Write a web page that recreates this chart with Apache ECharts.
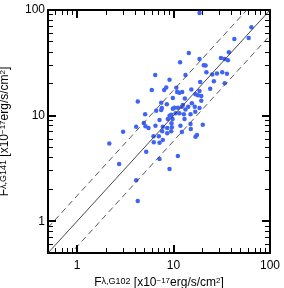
<!DOCTYPE html>
<html>
<head>
<meta charset="utf-8">
<script src="https://cdn.jsdelivr.net/npm/echarts@6/dist/echarts.min.js"></script>
<style>
html,body{margin:0;padding:0;background:#fff;}
#c{width:284px;height:288px;}
</style>
</head>
<body>
<div id="c"></div>
<script>
// ---- data ----
const fluxG102 = [
  18.6, 64.1, 42.7, 60.1, 14.4, 37.5, 11.7, 18.6, 31.0, 33.9,
  36.6, 20.6, 21.5, 6.46, 9.09, 13.3, 21.9, 25.2, 28.2, 32.0,
  35.8, 18.9, 26.2, 33.9, 5.95, 8.0, 8.40, 10.7, 10.9, 11.5,
  12.3, 15.3, 18.6, 16.9, 17.9, 19.4, 24.0, 9.84, 13.1, 4.26,
  7.45, 8.52, 15.5, 19.4, 9.84, 10.2, 11.1, 12.2, 12.5, 13.3,
  14.2, 16.6, 18.6, 6.61, 7.45, 7.56, 5.08, 9.09, 9.46, 8.73,
  9.77, 10.5, 11.5, 12.8, 13.0, 15.0, 16.8, 4.10, 4.92, 5.12,
  5.50, 6.50, 7.16, 7.74, 8.60, 9.53, 9.60, 11.8, 15.0, 15.1,
  16.9, 17.5, 7.63, 8.60, 9.46, 12.2, 6.20, 7.04, 6.24, 7.16,
  7.74, 5.21, 11.1, 7.16, 9.09, 4.10, 4.26, 3.00, 2.16, 2.73,
  20.1
];
const fluxG141 = [
  93.7, 68.8, 53.1, 54.2, 39.2, 39.7, 32.0, 34.4, 35.2, 34.4,
  33.4, 30.0, 29.8, 24.2, 21.9, 24.2, 25.8, 24.5, 25.1, 25.8,
  24.9, 20.8, 21.2, 20.2, 17.5, 17.5, 18.5, 18.4, 16.7, 16.5,
  16.7, 17.7, 17.1, 15.9, 15.6, 15.3, 18.0, 14.7, 14.5, 13.6,
  13.2, 12.8, 13.1, 13.8, 11.6, 11.9, 11.9, 12.1, 12.6, 11.4,
  12.1, 12.1, 11.8, 11.1, 11.3, 11.8, 10.3, 9.96, 10.2, 9.27,
  9.27, 10.5, 10.5, 10.3, 9.27, 10.3, 10.9, 7.85, 8.51, 7.92,
  7.63, 8.02, 9.07, 7.85, 7.63, 8.45, 7.75, 8.02, 8.32, 7.47,
  6.32, 6.56, 7.11, 6.81, 7.11, 7.00, 6.38, 6.38, 5.60, 5.52,
  5.89, 4.54, 4.14, 3.88, 3.13, 2.44, 1.55, 7.05, 5.43, 3.48,
  8.20
];
const axisMin = 0.5;
const axisMax = 100;
const majorTickLabels = [1, 10, 100];
const majorTickValues = [1, 10];
const minorTickValues = [0.6, 0.7, 0.8, 0.9, 2, 3, 4, 5, 6, 7, 8, 9, 20, 30, 40, 50, 60, 70, 80, 90];
const lineEnds = [0.5, 100];
const dashFactor = 1.74;

// ---- build ----
const points = fluxG102.map((x, i) => [x, fluxG141[i]]);
const oneToOne = lineEnds.map(x => [x, x]);
const upper = lineEnds.map(x => [x, x * dashFactor]);
const lower = lineEnds.map(x => [x, x / dashFactor]);

const FONT = '"Liberation Sans", Arial, Helvetica, sans-serif';
const rich = {
  m: { fontSize: 12, fontFamily: FONT, color: '#000', lineHeight: 24, verticalAlign: 'top' },
  sup: { fontSize: 8, fontFamily: FONT, color: '#000', lineHeight: 12, verticalAlign: 'top' },
  sub: { fontSize: 9, fontFamily: FONT, color: '#000', lineHeight: 34, verticalAlign: 'top' }
};
function title(sub) {
  return '{m|F}{sub|λ,' + sub + '}{m| [x10}{sup|−17}{m|erg/s/cm}{sup|2}{m|]}';
}
function fmt(v) {
  return majorTickLabels.indexOf(Math.round(v * 1000) / 1000) >= 0 ? String(Math.round(v)) : '';
}
const labelStyle = { fontSize: 12, fontFamily: FONT, color: '#000' };
const axisLine = { show: true, onZero: false, lineStyle: { color: '#000', width: 2 } };

function logAxis(position, extra) {
  return Object.assign({
    type: 'log', logBase: 10, min: axisMin, max: axisMax, position: position,
    axisLine: axisLine, axisTick: { show: false }, minorTick: { show: false },
    splitLine: { show: false }, axisLabel: { show: false }
  }, extra || {});
}

const chart = echarts.init(document.getElementById('c'));
chart.setOption({
  animation: false,
  backgroundColor: '#fff',
  grid: { left: 48, right: 14, top: 10, bottom: 35, containLabel: false, outerBoundsMode: 'none' },
  xAxis: [
    logAxis('bottom', {
      axisLabel: Object.assign({ show: true, margin: 7, formatter: fmt, showMinLabel: false }, labelStyle),
      name: title('G102'), nameLocation: 'middle', nameGap: 8, nameTextStyle: { rich }
    }),
    logAxis('top')
  ],
  yAxis: [
    logAxis('left', {
      axisLabel: Object.assign({ show: true, margin: 3, formatter: fmt, showMinLabel: false }, labelStyle),
      name: title('G141'), nameLocation: 'middle', nameGap: 15, nameRotate: 90, nameTextStyle: { rich }
    }),
    logAxis('right')
  ],
  series: [
    {
      type: 'line', data: oneToOne, symbol: 'none', clip: true,
      lineStyle: { color: '#333', width: 0.9 }, silent: true
    },
    {
      type: 'line', data: upper, symbol: 'none', clip: true,
      lineStyle: { color: '#444', width: 0.9, type: [6, 4] }, silent: true
    },
    {
      type: 'line', data: lower, symbol: 'none', clip: true,
      lineStyle: { color: '#444', width: 0.9, type: [6, 4] }, silent: true
    },
    {
      type: 'scatter', data: points, symbol: 'circle', symbolSize: 4.5,
      itemStyle: { color: '#3f63f7', opacity: 1 }
    }
  ]
});

// ---- inward tick marks on all four sides, placed through the axis scales ----
function toPx(pair) {
  let p = null;
  try { p = chart.convertToPixel({ gridIndex: 0 }, pair); } catch (e) { p = null; }
  if (!p || isNaN(p[0])) {
    try { p = chart.convertToPixel({ seriesIndex: 3 }, pair); } catch (e) { p = null; }
  }
  return p;
}
const tickElements = [];
function seg(x1, y1, x2, y2, w) {
  tickElements.push({
    type: 'line', silent: true, z: 100,
    shape: { x1: x1, y1: y1, x2: x2, y2: y2 },
    style: { stroke: '#000', lineWidth: w }
  });
}
function snap(c, w) { return w % 2 === 1 ? Math.round(c - 0.5) + 0.5 : Math.round(c); }
function addTicks(values, len, w) {
  values.forEach(v => {
    const b = toPx([v, axisMin]);
    const t = toPx([v, axisMax]);
    const l = toPx([axisMin, v]);
    const r = toPx([axisMax, v]);
    if (b) { const x = snap(b[0], w); seg(x, b[1], x, b[1] - len, w); }
    if (t) { const x = snap(t[0], w); seg(x, t[1], x, t[1] + len, w); }
    if (l) { const y = snap(l[1], w); seg(l[0], y, l[0] + len, y, w); }
    if (r) { const y = snap(r[1], w); seg(r[0], y, r[0] - len, y, w); }
  });
}
try {
  addTicks(minorTickValues, 5, 1);
  addTicks(majorTickValues, 8, 2);
  chart.setOption({ graphic: { elements: tickElements } });
} catch (e) { /* keep the chart even if ticks fail */ }
</script>
</body>
</html>
